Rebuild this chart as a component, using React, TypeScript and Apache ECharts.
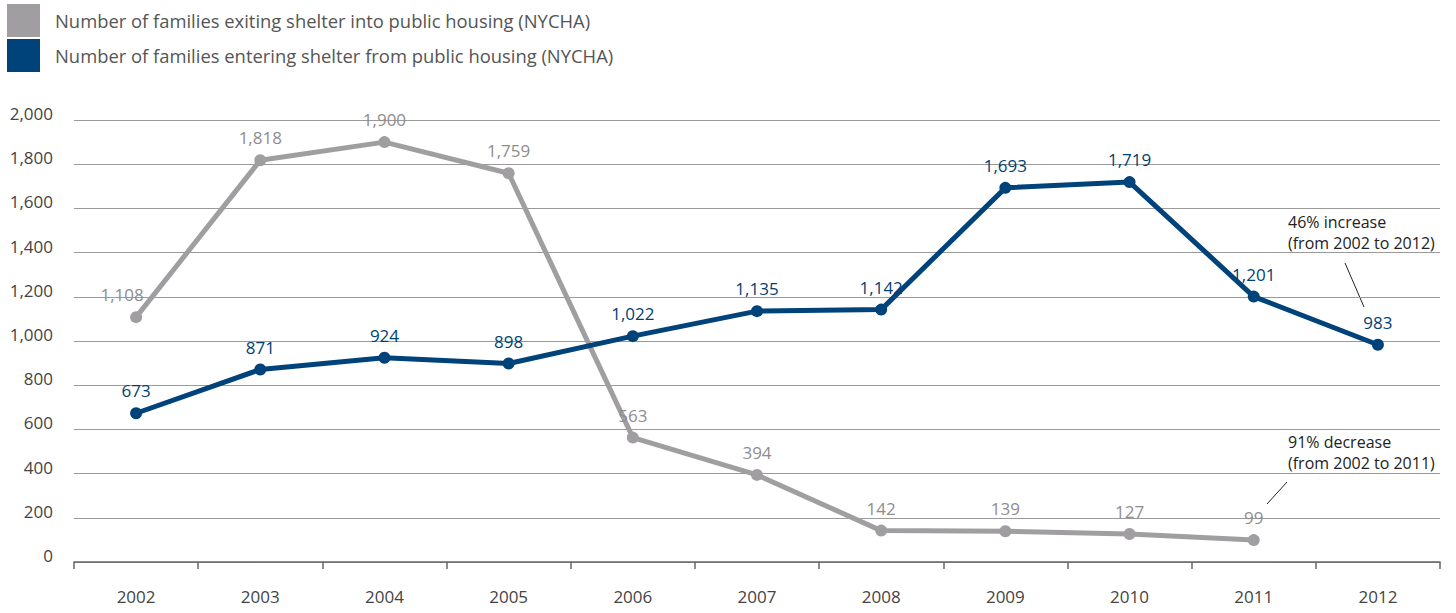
import React, { useEffect, useRef } from "react";
import * as echarts from "echarts";

const years = ["2002", "2003", "2004", "2005", "2006", "2007", "2008", "2009", "2010", "2011", "2012"];
const exiting: (number | null)[] = [1108, 1818, 1900, 1759, 563, 394, 142, 139, 127, 99, null];
const entering: number[] = [673, 871, 924, 898, 1022, 1135, 1142, 1693, 1719, 1201, 983];
const seriesNames = [
  "Number of families exiting shelter into public housing (NYCHA)",
  "Number of families entering shelter from public housing (NYCHA)",
];
const annotations = [
  { text: "46% increase", x: 1288, y: 222 },
  { text: "(from 2002 to 2012)", x: 1288, y: 243 },
  { text: "91% decrease", x: 1288, y: 442 },
  { text: "(from 2002 to 2011)", x: 1288, y: 463 },
];

const GREY = "#a09ea1";
const BLUE = "#00427a";
const FONT = "Open Sans";

const fmt = (v: number) => v.toLocaleString("en-US");

export default function App() {
  const ref = useRef<HTMLDivElement>(null);
  useEffect(() => {
    document.body.style.margin = "0";
    const chart = echarts.init(ref.current!, null, { renderer: "svg" });
    chart.setOption({
      animation: false,
      textStyle: { fontFamily: FONT },
      legend: {
        orient: "vertical",
        left: 7,
        top: 4,
        padding: 0,
        itemGap: 2,
        itemWidth: 33,
        itemHeight: 33,
        icon: "rect",
        selectedMode: false,
        data: seriesNames,
        textStyle: { fontFamily: FONT, fontSize: 18.4, color: "#555", padding: [2, 0, 0, 10] },
      },
      grid: { left: 74, right: 16, top: 120, bottom: 51 },
      xAxis: {
        type: "category",
        data: years,
        boundaryGap: true,
        axisLine: { lineStyle: { color: "#666", width: 1.5 } },
        axisTick: { show: true, length: 7, lineStyle: { color: "#666", width: 1.5 } },
        axisLabel: { fontFamily: FONT, fontSize: 17, color: "#444", margin: 26 },
        splitLine: { show: false },
      },
      yAxis: {
        type: "value",
        min: 0,
        max: 2000,
        interval: 200,
        axisLine: { show: false },
        axisTick: { show: false },
        splitLine: { lineStyle: { color: "#9a9a9a", width: 1 } },
        axisLabel: {
          fontFamily: FONT,
          fontSize: 17,
          color: "#444",
          margin: 21,
          verticalAlign: "bottom",
          lineHeight: 13,
          formatter: (v: number) => fmt(v),
        },
      },
      series: [
        {
          name: seriesNames[0],
          type: "line",
          data: exiting.map((v, i) =>
            i === 0 ? { value: v, label: { offset: [-14, 0] } } : v
          ),
          color: GREY,
          lineStyle: { color: GREY, width: 5 },
          itemStyle: { color: GREY },
          symbol: "circle",
          symbolSize: 12,
          connectNulls: false,
          label: {
            show: true,
            position: "top",
            distance: 8,
            fontFamily: FONT,
            fontSize: 17,
            color: "#8f8d8f",
            formatter: (p: any) => fmt(p.value),
          },
          z: 2,
        },
        {
          name: seriesNames[1],
          type: "line",
          data: entering,
          color: BLUE,
          lineStyle: { color: BLUE, width: 5 },
          itemStyle: { color: BLUE },
          symbol: "circle",
          symbolSize: 12,
          label: {
            show: true,
            position: "top",
            distance: 8,
            fontFamily: FONT,
            fontSize: 17,
            color: "#003f72",
            formatter: (p: any) => fmt(p.value),
          },
          z: 3,
        },
      ],
      graphic: [
        ...annotations.map((a) => ({
          type: "text",
          x: a.x,
          y: a.y,
          style: {
            text: a.text,
            fontFamily: FONT,
            fontSize: 16,
            lineHeight: 16,
            verticalAlign: "middle",
            align: "left",
            fill: "#222",
          },
        })),
        {
          type: "line",
          shape: { x1: 1345, y1: 263, x2: 1364, y2: 307 },
          style: { stroke: "#222", lineWidth: 1 },
        },
        {
          type: "line",
          shape: { x1: 1287, y1: 482, x2: 1267, y2: 504 },
          style: { stroke: "#222", lineWidth: 1 },
        },
      ],
    });
    return () => chart.dispose();
  }, []);
  return <div ref={ref} style={{ width: 1456, height: 613 }} />;
}
